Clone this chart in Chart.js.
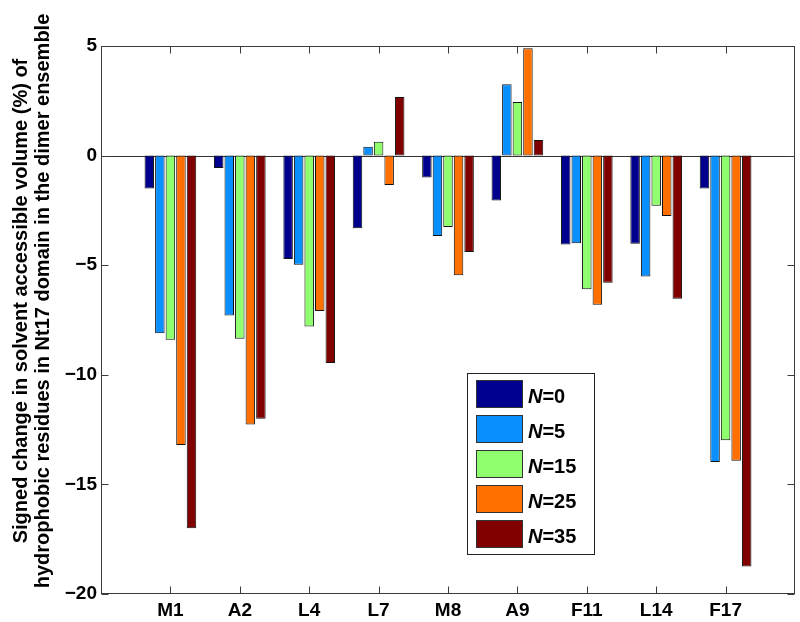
<!DOCTYPE html>
<html>
<head>
<meta charset="utf-8">
<script src="https://cdn.jsdelivr.net/npm/chart.js@4/dist/chart.umd.min.js"></script>
<style>
  html, body { margin: 0; padding: 0; background: #fff; }
  canvas { display: block; }
</style>
</head>
<body>
<canvas id="chart" width="800" height="622"></canvas>
<script>
// residues along the x axis
const residues = ['M1', 'A2', 'L4', 'L7', 'M8', 'A9', 'F11', 'L14', 'F17'];

// signed change (%) per residue, one array per N
const n0  = [-1.5, -0.56, -4.72, -3.31, -1.0, -2.05, -4.05, -4.02, -1.5];
const n5  = [-8.1, -7.3, -4.98, 0.40, -3.67, 3.25, -4.0, -5.52, -13.98];
const n15 = [-8.4, -8.36, -7.8, 0.63, -3.26, 2.44, -6.1, -2.29, -12.99];
const n25 = [-13.2, -12.27, -7.09, -1.34, -5.46, 4.9, -6.8, -2.76, -13.92];
const n35 = [-17.0, -12.0, -9.46, 2.67, -4.4, 0.71, -5.8, -6.53, -18.75];

const seriesNames = ['0', '5', '15', '25', '35'];
const seriesColors = ['#00008F', '#0A8FFF', '#8FFF70', '#FF7000', '#800000'];

const yTicks = [-20, -15, -10, -5, 0, 5];

const titleLines = [
    'Signed change in solvent accessible volume (%) of',
    'hydrophobic residues in Nt17 domain in the dimer ensemble'
];

// pad one empty slot on each side so the axis runs 0..10 like the original
const labels = [''].concat(residues, ['']);
const pad = arr => [null].concat(arr, [null]);

const allSeries = [n0, n5, n15, n25, n35];
const datasets = allSeries.map((vals, i) => ({
    label: 'N=' + seriesNames[i],
    data: pad(vals),
    backgroundColor: seriesColors[i],
    borderColor: '#111',
    borderWidth: 1,
    borderSkipped: false,
    categoryPercentage: 0.76,
    barPercentage: 0.9
}));

const FONT = 'Arial, "Liberation Sans", sans-serif';
const AXIS_COLOR = '#3a3a3a';

// box, inward ticks, zero line, y title and legend, drawn MATLAB-style
const matlabFrame = {
    id: 'matlabFrame',
    beforeDatasetsDraw(chart) {
        const ctx = chart.ctx;
        const a = chart.chartArea;
        const y0 = chart.scales.y.getPixelForValue(0);
        ctx.save();
        ctx.strokeStyle = '#333';
        ctx.lineWidth = 1;
        ctx.beginPath();
        ctx.moveTo(a.left, Math.round(y0) + 0.5);
        ctx.lineTo(a.right, Math.round(y0) + 0.5);
        ctx.stroke();
        ctx.restore();
    },
    afterDatasetsDraw(chart) {
        const ctx = chart.ctx;
        const a = chart.chartArea;
        const xs = chart.scales.x;
        const ys = chart.scales.y;
        const tl = 7;
        ctx.save();
        ctx.strokeStyle = AXIS_COLOR;
        ctx.lineWidth = 1;
        const L = Math.round(a.left) + 0.5, R = Math.round(a.right) - 0.5;
        const T = Math.round(a.top) + 0.5, B = Math.round(a.bottom) - 0.5;
        ctx.strokeRect(L, T, R - L, B - T);
        ctx.beginPath();
        for (let i = 1; i <= residues.length; i++) {
            const x = Math.round(xs.getPixelForValue(i)) + 0.5;
            ctx.moveTo(x, B); ctx.lineTo(x, B - tl);
            ctx.moveTo(x, T); ctx.lineTo(x, T + tl);
        }
        yTicks.forEach(v => {
            const y = Math.round(ys.getPixelForValue(v)) + 0.5;
            ctx.moveTo(L, y); ctx.lineTo(L + tl, y);
            ctx.moveTo(R, y); ctx.lineTo(R - tl, y);
        });
        ctx.stroke();

        // y axis title, two centred lines
        ctx.fillStyle = '#000';
        ctx.font = 'bold 20px ' + FONT;
        ctx.textAlign = 'center';
        ctx.textBaseline = 'alphabetic';
        ctx.translate(0, 301);
        ctx.rotate(-Math.PI / 2);
        ctx.fillText(titleLines[0], 0, 27);
        ctx.fillText(titleLines[1], 0, 49);
        ctx.restore();

        // legend
        ctx.save();
        const bx = 467, by = 373, bw = 127, bh = 181;
        ctx.fillStyle = '#fff';
        ctx.fillRect(bx, by, bw, bh);
        ctx.strokeStyle = '#222';
        ctx.lineWidth = 1;
        ctx.strokeRect(bx + 0.5, by + 0.5, bw, bh);
        chart.data.datasets.forEach((ds, i) => {
            const py = by + 7 + i * 35;
            ctx.fillStyle = ds.backgroundColor;
            ctx.fillRect(bx + 9, py, 46, 27);
            ctx.strokeStyle = '#333';
            ctx.strokeRect(bx + 9.5, py + 0.5, 46, 27);
            ctx.fillStyle = '#000';
            ctx.textBaseline = 'alphabetic';
            ctx.textAlign = 'left';
            ctx.font = 'italic bold 20px ' + FONT;
            const tx = bx + 61, ty = py + 23;
            ctx.fillText('N', tx, ty);
            const w = ctx.measureText('N').width;
            ctx.font = 'bold 20px ' + FONT;
            ctx.fillText('=' + seriesNames[i], tx + w, ty);
        });
        ctx.restore();
    }
};

new Chart(document.getElementById('chart').getContext('2d'), {
    type: 'bar',
    data: { labels: labels, datasets: datasets },
    options: {
        responsive: false,
        animation: false,
        devicePixelRatio: 1,
        layout: { padding: { left: 0, top: 46, right: 5, bottom: 0 } },
        plugins: {
            legend: { display: false },
            tooltip: { enabled: false }
        },
        scales: {
            x: {
                offset: false,
                grid: { display: false, drawTicks: false },
                border: { display: false },
                ticks: {
                    color: '#000',
                    font: { family: FONT, size: 19, weight: 'bold' },
                    padding: 5,
                    autoSkip: false,
                    maxRotation: 0
                },
                afterFit: s => { s.height = 28; }
            },
            y: {
                min: -20,
                max: 5,
                grid: { display: false, drawTicks: false },
                border: { display: false },
                ticks: {
                    stepSize: 5,
                    color: '#000',
                    font: { family: FONT, size: 19, weight: 'bold' },
                    padding: 4,
                    callback: v => String(v).replace('-', '\u2212')
                },
                afterFit: s => { s.width = 101; }
            }
        }
    },
    plugins: [matlabFrame]
});
</script>
</body>
</html>
